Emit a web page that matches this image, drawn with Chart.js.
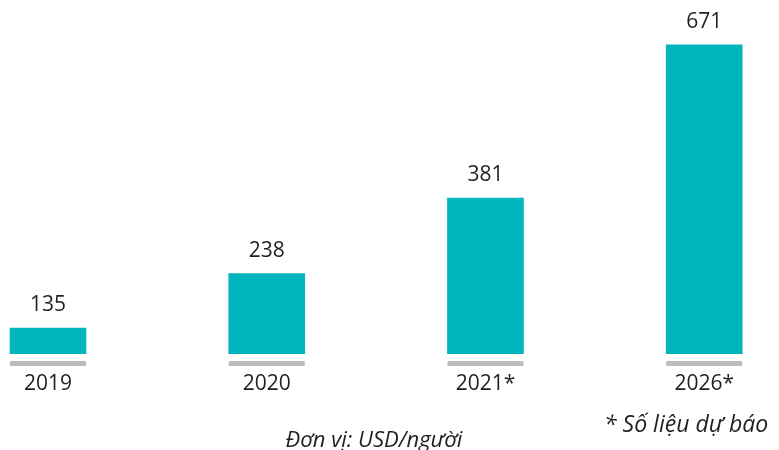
<!DOCTYPE html>
<html>
<head>
<meta charset="utf-8">
<script src="https://cdn.jsdelivr.net/npm/chart.js@4"></script>
<style>
  html, body { margin: 0; padding: 0; background: #fff; }
  #wrap { width: 779px; height: 450px; }
</style>
</head>
<body>
<div id="wrap"><canvas id="myChart" width="779" height="450"></canvas></div>
<script>
const years = ['2019', '2020', '2021*', '2026*'];
const spending = [135, 238, 381, 671];
const unitNote = 'Đơn vị: USD/người';
const forecastNote = '* Số liệu dự báo';

const teal = '#00b5bd';
const ink = '#231f20';

// gray strip under each bar, value on top, notes at the bottom
const extras = {
  id: 'extras',
  afterDatasetsDraw(chart) {
    const c = chart.ctx;
    const area = chart.chartArea;
    const bars = chart.getDatasetMeta(0).data;
    c.save();
    bars.forEach((bar, i) => {
      const w = bar.width;
      c.fillStyle = '#bcbdc0';
      c.fillRect(bar.x - w / 2, area.bottom + 7, w, 5);
      c.fillStyle = ink;
      c.font = '21px "Open Sans"';
      c.textAlign = 'center';
      c.textBaseline = 'alphabetic';
      c.fillText(spending[i], bar.x, bar.y - 17);
    });
    c.font = 'italic 22px "Open Sans"';
    c.textAlign = 'center';
    c.fillText(unitNote, 374, 447);
    c.font = 'italic 23px "Open Sans"';
    c.textAlign = 'left';
    c.fillText(forecastNote, 604, 432);
    c.restore();
  }
};

new Chart(document.getElementById('myChart'),
  {
    type: 'bar',
    data:
    {
      datasets:
      [
        {
          data: spending.map((v, i) => ({ x: i, y: v })),
          backgroundColor: teal,
          barThickness: 76
        }
      ]
    },
    options:
    {
      responsive: false,
      animation: false,
      layout: { padding: 0 },
      plugins:
      {
        legend: { display: false },
        tooltip: { enabled: false }
      },
      scales:
      {
        x:
        {
          type: 'linear',
          offset: false,
          min: -0.2195,
          max: 3.342,
          grid: { display: false, drawTicks: false },
          border: { display: false },
          afterBuildTicks(scale) {
            scale.ticks = years.map((_, i) => ({ value: i }));
          },
          afterFit(scale) {
            scale.height = 96;
          },
          ticks:
          {
            padding: 17,
            color: ink,
            font: { family: 'Open Sans', size: 21 },
            callback: (value) => years[value]
          }
        },
        y:
        {
          display: false,
          min: 86,
          max: 756
        }
      }
    },
    plugins: [extras]
  }
  );
</script>
</body>
</html>
